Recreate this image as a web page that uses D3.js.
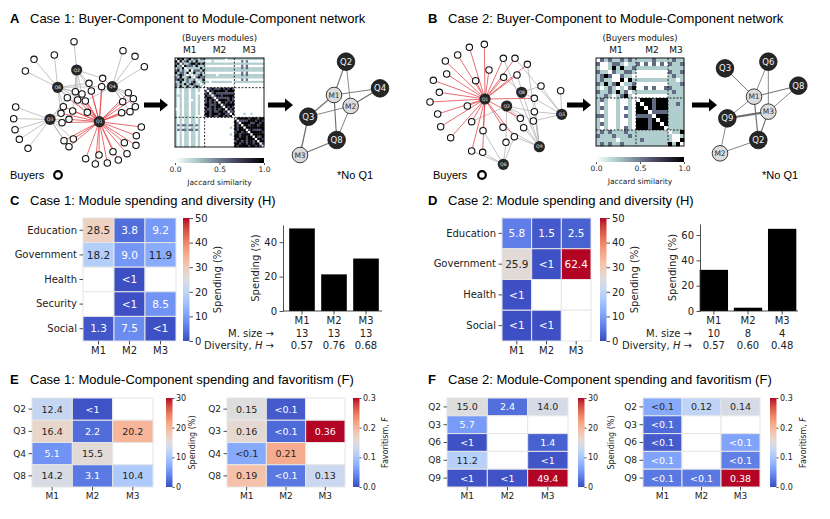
<!DOCTYPE html>
<html>
<head>
<meta charset="utf-8">
<script src="https://cdn.jsdelivr.net/npm/d3@7"></script>
<style>
  body { margin: 0; background: #fff; }
  text { font-family: "DejaVu Sans", sans-serif; }
  .ttl { font-family: "Liberation Sans", Arial, sans-serif; }
</style>
</head>
<body>
<script>
// ---------- data ----------
var modules = ["M1", "M2", "M3"];

// panel C / D : module spending by sector (%), null = no spending
var sectorsC = ["Education", "Government", "Health", "Security", "Social"];
var spendC = [[28.5, 3.8, 9.2], [18.2, 9.0, 11.9], [null, 0.4, null], [null, 0.5, 8.5], [1.3, 7.5, 0.6]];
var sectorsD = ["Education", "Government", "Health", "Social"];
var spendD = [[5.8, 1.5, 2.5], [25.9, 0.6, 62.4], [0.5, null, null], [0.4, 0.5, null]];

// module totals, sizes and diversity
var barC = [48.0, 21.3, 30.5];
var barD = [32.5, 2.6, 64.9];
var sizeC = [13, 13, 13];
var sizeD = [10, 8, 4];
var divC = ["0.57", "0.76", "0.68"];
var divD = ["0.57", "0.60", "0.48"];

// panel E / F : module-component spending (%) and favoritism
var compE = ["Q2", "Q3", "Q4", "Q8"];
var spendE = [[12.4, 0.5, null], [16.4, 2.2, 20.2], [5.1, 15.5, null], [14.2, 3.1, 10.4]];
var favE = [[0.15, 0.01, null], [0.16, 0.02, 0.36], [0.07, 0.21, null], [0.19, 0.03, 0.13]];
var compF = ["Q2", "Q3", "Q6", "Q8", "Q9"];
var spendF = [[15.0, 2.4, 14.0], [5.7, null, null], [0.4, null, 1.4], [11.2, null, 0.6], [0.5, 0.5, 49.4]];
var favF = [[0.07, 0.12, 0.14], [0.02, null, null], [0.01, null, 0.065], [0.065, null, 0.035], [0.03, 0.03, 0.38]];

// Jaccard similarity between buyers (lower triangle, digit/9), blocks by module
var jacA = [
  "", "9", "59", "925", "2529", "59252", "925529", "2595202", "52922592", "595925225",
  "2292252592", "52529259522", "529229225952",
  "2020220220200", "2020220220200 6", "2020220220000 69", "2220220220200 966",
  "2020220220200 6996", "2020220020200 69696", "2020220220200 696969", "2020220220200 9966699",
  "2020220220200 69696996", "0020220220200 966969699", "2020220220200 6969669969",
  "2020220220200 99699969966", "2020220220000 696966996969",
  "2020220220200 0000000000000", "2020220220200 0000000000000 9", "2020220220200 0000000000000 96",
  "2525525525200 0000000000000 969", "2020220220200 0000000000020 9699",
  "2525525525200 0000000000000 96999", "2020220220200 0000000000000 699696",
  "2020220220200 0000000000020 9969999", "2020220220200 0000000000000 99699699",
  "2020220220200 0000000000000 969996999", "2020220220200 0000000000000 6996969969",
  "2020220220200 0000000000000 99699699699", "2020220220200 0000000000000 969999699696"
];
var jacB = [
  "", "5", "20", "522", "2595", "25220", "529259", "2025202", "52252925", "225202592",
  "2520020020", "2020020020 9", "2520020520 99", "2020020020 999", "5520020520 5555",
  "2020020020 99959", "2520020020 999599", "2020020520 9995999",
  "2525222522 22222222", "5222522252 22222222 2", "2222202222 25222222 20", "2525225222 22222222 929"
];

// buyer-component networks (layout units), buyers list the components they buy from
var hubsA = [["Q2", 230, 120], ["Q8", 173, 172], ["Q4", 337, 170], ["Q3", 150, 268], ["Q1", 298, 275]];
var buyersA = [
  [222, 35, "Q2"], [163, 75, "Q8"], [102, 88, "Q8"], [76, 123, "Q8"],
  [369, 62, "Q4"], [405, 79, "Q4"], [433, 110, "Q4"],
  [308, 145, "Q2 Q4 Q1"], [267, 160, "Q2 Q8 Q1"], [305, 170, "Q4 Q8 Q1"], [274, 183, "Q2 Q1"],
  [226, 185, "Q8 Q2 Q1"], [246, 192, "Q2 Q1 Q8"], [202, 203, "Q8 Q1 Q3"], [233, 210, "Q2 Q1"],
  [256, 213, "Q4 Q1 Q8"],
  [385, 188, "Q4 Q1"], [400, 206, "Q4 Q1"], [368, 215, "Q4 Q1"], [406, 230, "Q4 Q1"],
  [390, 245, "Q1 Q4"], [365, 248, "Q1"],
  [190, 230, "Q8 Q3 Q1"], [218, 243, "Q1 Q2"], [262, 247, "Q1 Q8"], [183, 250, "Q3 Q8 Q1"],
  [207, 268, "Q3 Q1"], [186, 278, "Q3 Q1"],
  [47, 231, "Q3"], [41, 266, "Q3"], [45, 299, "Q3"], [58, 328, "Q3"], [84, 355, "Q3"],
  [192, 332, "Q3 Q1"], [220, 327, "Q1 Q3"], [207, 350, "Q1 Q3"],
  [424, 291, "Q1"], [409, 317, "Q1"], [373, 338, "Q1"], [408, 346, "Q1"], [381, 371, "Q1"],
  [339, 365, "Q1"], [297, 375, "Q1"], [355, 390, "Q1"], [257, 386, "Q1"], [286, 402, "Q1"], [322, 399, "Q1"]
];
var hubsB = [["Q1", 210, 207], ["Q2", 275, 228], ["Q8", 320, 187], ["Q3", 440, 253], ["Q9", 373, 350], ["Q6", 265, 403]];
var buyersB = [
  [208, 43, "Q1"], [163, 52, "Q1"], [128, 75, "Q1"], [91, 93, "Q1"], [95, 132, "Q1"], [55, 151, "Q1"],
  [73, 187, "Q1"], [45, 216, "Q1"], [68, 252, "Q1"], [77, 290, "Q1"], [107, 323, "Q1"], [182, 152, "Q1"],
  [157, 228, "Q1"], [222, 120, "Q1"],
  [265, 85, "Q1 Q9"], [300, 85, "Q1 Q3"], [337, 103, "Q1 Q9"], [266, 142, "Q1 Q8"], [306, 135, "Q1 Q9"],
  [378, 168, "Q8 Q3"], [437, 182, "Q3"], [358, 205, "Q1 Q8 Q3 Q9"], [358, 245, "Q2 Q3 Q9"],
  [170, 275, "Q1 Q2"], [204, 302, "Q1 Q6"], [264, 292, "Q1 Q9"], [316, 265, "Q1 Q2 Q9"],
  [326, 293, "Q2 Q9"], [355, 273, "Q2 Q3"], [298, 320, "Q1 Q6 Q9"], [273, 337, "Q2 Q6"],
  [170, 363, "Q1 Q6"], [203, 367, "Q1 Q6"]
];

// module-component networks (layout units)
var mnodesA = [["Q2", 198, 50], ["M1", 162, 150], ["Q4", 300, 130], ["M2", 212, 183], ["Q3", 85, 215], ["Q8", 170, 285], ["M3", 60, 330]];
var mnodesB = [["Q3", 75, 70], ["Q6", 205, 50], ["Q8", 295, 122], ["M1", 162, 155], ["M3", 205, 200], ["Q9", 82, 220], ["Q2", 175, 285], ["M2", 60, 325]];

// ---------- helpers ----------
var svg = d3.select("body").append("svg").attr("width", 830).attr("height", 519);
svg.append("rect").attr("width", 830).attr("height", 519).attr("fill", "#fff");
var defs = svg.append("defs");

var cw = [[59,76,192],[77,104,215],[98,130,234],[119,154,247],[141,176,254],[163,194,255],[184,208,249],
  [204,217,238],[221,221,221],[236,211,197],[245,196,173],[247,177,148],[244,154,123],[236,127,99],
  [222,96,77],[203,62,56],[180,4,38]];
var coolwarm = d3.scaleLinear().domain(cw.map(function(d, i) { return i / 16; }))
  .range(cw.map(function(d) { return d3.rgb(d[0], d[1], d[2]).toString(); })).clamp(true);
var boneR = d3.scaleLinear().domain([0, 0.254, 0.635, 1]).range(["#ffffff", "#a6c7c7", "#515171", "#000000"]).clamp(true);

function lum(c) {
  var r = d3.rgb(c), w = [0.2126, 0.7152, 0.0722];
  return [r.r, r.g, r.b].reduce(function(a, v, i) {
    v /= 255;
    v = v <= 0.03928 ? v / 12.92 : Math.pow((v + 0.055) / 1.055, 2.4);
    return a + v * w[i];
  }, 0);
}

var gid = 0;
function gradient(scale, horizontal) {
  var id = "grad" + (gid++);
  var lg = defs.append("linearGradient").attr("id", id)
    .attr("x1", 0).attr("y1", horizontal ? 0 : 1).attr("x2", horizontal ? 1 : 0).attr("y2", 0);
  d3.range(0, 1.0001, 0.05).forEach(function(t) {
    lg.append("stop").attr("offset", t).attr("stop-color", scale(t));
  });
  return "url(#" + id + ")";
}

function styleAxis(sel, fs) {
  sel.selectAll("line").attr("stroke", "#222").attr("stroke-width", 0.8);
  sel.selectAll("path.domain").attr("stroke", "#222").attr("stroke-width", 0.8);
  sel.selectAll("text").attr("fill", "#222").style("font-size", fs + "px").style("font-family", "DejaVu Sans");
}

function title(x, y, letter, txt) {
  svg.append("text").attr("class", "ttl").attr("x", x).attr("y", y).attr("font-weight", "bold")
    .style("font-size", "13px").text(letter);
  svg.append("text").attr("class", "ttl").attr("x", x + 20).attr("y", y).style("font-size", "13px").text(txt);
}

function arrow(x0, x1, y) {
  var p = d3.path();
  p.moveTo(x0, y - 2.4); p.lineTo(x1 - 8, y - 2.4); p.lineTo(x1 - 8, y - 6.5); p.lineTo(x1, y);
  p.lineTo(x1 - 8, y + 6.5); p.lineTo(x1 - 8, y + 2.4); p.lineTo(x0, y + 2.4); p.closePath();
  svg.append("path").attr("d", p.toString()).attr("fill", "#000");
}

function network(ox, oy, hubs, buyers) {
  var sx = d3.scaleLinear().domain([0, 480]).range([ox, ox + 160]);
  var sy = d3.scaleLinear().domain([0, 420]).range([oy, oy + 140]);
  var hub = new Map(hubs.map(function(h) { return [h[0], h]; }));
  var links = [];
  buyers.forEach(function(b) {
    b[2].split(" ").forEach(function(q) { links.push({ b: b, h: hub.get(q), red: q === "Q1" }); });
  });
  links.sort(function(a, b) { return a.red - b.red; });
  var g = svg.append("g");
  g.selectAll("line").data(links).enter().append("line")
    .attr("x1", function(d) { return sx(d.b[0]); }).attr("y1", function(d) { return sy(d.b[1]); })
    .attr("x2", function(d) { return sx(d.h[1]); }).attr("y2", function(d) { return sy(d.h[2]); })
    .attr("stroke", function(d) { return d.red ? "#e5484d" : "#b4b4b4"; }).attr("stroke-width", 0.8);
  g.selectAll("circle.b").data(buyers).enter().append("circle")
    .attr("cx", function(d) { return sx(d[0]); }).attr("cy", function(d) { return sy(d[1]); })
    .attr("r", 3.2).attr("fill", "#fff").attr("stroke", "#111").attr("stroke-width", 1.1);
  g.selectAll("circle.h").data(hubs).enter().append("circle")
    .attr("cx", function(d) { return sx(d[1]); }).attr("cy", function(d) { return sy(d[2]); })
    .attr("r", 5.6).attr("fill", "#262626");
  g.selectAll("text").data(hubs).enter().append("text")
    .attr("x", function(d) { return sx(d[1]); }).attr("y", function(d) { return sy(d[2]); })
    .attr("dy", "0.35em").attr("text-anchor", "middle").attr("fill", "#eee").style("font-size", "4.6px")
    .text(function(d) { return d[0]; });
}

function modNetwork(ox, oy, nodes, comps, vals) {
  var sx = d3.scaleLinear().domain([0, 405]).range([ox, ox + 135]);
  var sy = d3.scaleLinear().domain([0, 360]).range([oy, oy + 120]);
  var node = new Map(nodes.map(function(n) { return [n[0], n]; }));
  var links = [];
  comps.forEach(function(c, i) {
    modules.forEach(function(m, j) {
      if (vals[i][j] != null) links.push({ a: node.get(c), b: node.get(m), v: vals[i][j] });
    });
  });
  var g = svg.append("g");
  g.selectAll("line").data(links).enter().append("line")
    .attr("x1", function(d) { return sx(d.a[1]); }).attr("y1", function(d) { return sy(d.a[2]); })
    .attr("x2", function(d) { return sx(d.b[1]); }).attr("y2", function(d) { return sy(d.b[2]); })
    .attr("stroke", "#707070").attr("stroke-width", function(d) { return 0.8 + d.v / 40; });
  g.selectAll("circle").data(nodes).enter().append("circle")
    .attr("cx", function(d) { return sx(d[1]); }).attr("cy", function(d) { return sy(d[2]); })
    .attr("r", function(d) { return d[0][0] === "Q" ? 8.8 : 7.8; })
    .attr("fill", function(d) { return d[0][0] === "Q" ? "#262626" : "#dcdcdc"; })
    .attr("stroke", "#111").attr("stroke-width", 0.8);
  g.selectAll("text").data(nodes).enter().append("text")
    .attr("x", function(d) { return sx(d[1]); }).attr("y", function(d) { return sy(d[2]); })
    .attr("dy", "0.36em").attr("text-anchor", "middle")
    .attr("fill", function(d) { return d[0][0] === "Q" ? "#f2f2f2" : "#333"; })
    .style("font-size", function(d) { return d[0][0] === "Q" ? "8.5px" : "7.5px"; })
    .text(function(d) { return d[0]; });
}

function jaccard(rowsIn, sizes, x0, y0, w) {
  var rows = rowsIn.map(function(s) { return s.replace(/ /g, ""); });
  var n = rows.length;
  var b = d3.scaleBand().domain(d3.range(n)).range([0, w]);
  var cells = [];
  for (var i = 0; i < n; i++) for (var j = 0; j < n; j++) {
    var ch = i === j ? "0" : (i > j ? rows[i][j] : rows[j][i]);
    var v = +ch; if (isNaN(v)) v = 0;
    cells.push({ i: i, j: j, v: v / 9 });
  }
  var g = svg.append("g").attr("transform", "translate(" + x0 + "," + y0 + ")");
  g.selectAll("rect").data(cells).enter().append("rect")
    .attr("x", function(d) { return b(d.j); }).attr("y", function(d) { return b(d.i); })
    .attr("width", b.bandwidth() + 0.3).attr("height", b.bandwidth() + 0.3)
    .attr("fill", function(d) { return boneR(d.v); });
  var cum = d3.cumsum(sizes);
  var cuts = Array.from(cum).slice(0, -1);
  cuts.forEach(function(k) {
    g.append("line").attr("x1", b(k)).attr("x2", b(k)).attr("y1", 0).attr("y2", w)
      .attr("stroke", "#000").attr("stroke-width", 0.8).attr("stroke-dasharray", "2,1.5");
    g.append("line").attr("y1", b(k)).attr("y2", b(k)).attr("x1", 0).attr("x2", w)
      .attr("stroke", "#000").attr("stroke-width", 0.8).attr("stroke-dasharray", "2,1.5");
  });
  g.append("rect").attr("width", w).attr("height", w).attr("fill", "none").attr("stroke", "#000").attr("stroke-width", 0.9);
  var starts = [0].concat(cuts);
  g.selectAll("text.m").data(modules).enter().append("text")
    .attr("x", function(d, k) { return (b(starts[k]) + b(cum[k] - 1) + b.bandwidth()) / 2; })
    .attr("y", -5).attr("text-anchor", "middle").style("font-size", "9px").attr("fill", "#111")
    .text(function(d) { return d; });
  g.append("text").attr("x", w / 2).attr("y", -17).attr("text-anchor", "middle")
    .style("font-size", "8.5px").attr("fill", "#111").text("(Buyers modules)");
  // colorbar
  var cy = w + 11;
  g.append("rect").attr("x", 0).attr("y", cy).attr("width", w).attr("height", 5).attr("fill", gradient(boneR, true));
  var cs = d3.scaleLinear().domain([0, 1]).range([0, w]);
  var ax = g.append("g").attr("transform", "translate(0," + (cy + 5) + ")")
    .call(d3.axisBottom(cs).tickValues([0, 0.5, 1]).tickFormat(d3.format(".1f")).tickSize(2).tickPadding(1.5));
  ax.select(".domain").remove();
  styleAxis(ax, 7.5);
  g.append("text").attr("x", w / 2).attr("y", cy + 27).attr("text-anchor", "middle")
    .style("font-size", "7.5px").attr("fill", "#222").text("Jaccard similarity");
}

function heatmap(o) {
  var g = svg.append("g");
  var x = d3.scaleBand().domain(modules).range([o.x0, o.x1]);
  var y = d3.scaleBand().domain(o.rows).range([o.y0, o.y1]);
  var col = function(v) { return coolwarm(v / o.vmax); };
  var cells = [];
  o.rows.forEach(function(r, i) {
    modules.forEach(function(c, j) { cells.push({ r: r, c: c, v: o.vals[i][j] }); });
  });
  g.selectAll("rect").data(cells).enter().append("rect")
    .attr("x", function(d) { return x(d.c); }).attr("y", function(d) { return y(d.r); })
    .attr("width", x.bandwidth()).attr("height", y.bandwidth())
    .attr("fill", function(d) { return d.v == null ? "#fff" : col(d.v); })
    .attr("stroke", "#e6e6e6").attr("stroke-width", 1);
  g.selectAll("text.a").data(cells.filter(function(d) { return d.v != null; })).enter().append("text")
    .attr("x", function(d) { return x(d.c) + x.bandwidth() / 2; })
    .attr("y", function(d) { return y(d.r) + y.bandwidth() / 2; })
    .attr("dy", "0.36em").attr("text-anchor", "middle").style("font-size", o.fa + "px")
    .attr("fill", function(d) { return lum(col(d.v)) > 0.408 ? "#262626" : "#fff"; })
    .text(function(d) { return o.fmt(d.v); });
  var ya = g.append("g").attr("transform", "translate(" + o.x0 + ",0)")
    .call(d3.axisLeft(y).tickSize(3.5).tickPadding(2.5));
  ya.select(".domain").remove();
  styleAxis(ya, o.fs);
  var xa = g.append("g").attr("transform", "translate(0," + o.y1 + ")")
    .call(d3.axisBottom(x).tickSize(3.5).tickPadding(2));
  xa.select(".domain").remove();
  styleAxis(xa, o.fs);
  // colorbar
  var cs = d3.scaleLinear().domain([0, o.vmax]).range([o.y1, o.y0]);
  g.append("rect").attr("x", o.cbx).attr("y", o.y0).attr("width", 6.5).attr("height", o.y1 - o.y0)
    .attr("fill", gradient(coolwarm, false));
  var ca = g.append("g").attr("transform", "translate(" + (o.cbx + 6.5) + ",0)")
    .call(d3.axisRight(cs).tickValues(o.cbt).tickFormat(o.cbf).tickSize(o.cts).tickPadding(o.ctp));
  ca.select(".domain").remove();
  styleAxis(ca, o.cfs);
  var lt = g.append("text").attr("transform", "translate(" + o.lx + "," + (o.y0 + o.y1) / 2 + ") rotate(-90)")
    .attr("text-anchor", "middle").style("font-size", o.cfs + "px").attr("fill", "#222");
  lt.append("tspan").text(o.label);
  if (o.italic) lt.append("tspan").attr("font-style", "italic").text(o.italic);
}

function bars(o) {
  var g = svg.append("g");
  var x = d3.scaleBand().domain(modules).range(o.xr).paddingInner(o.pi).paddingOuter(o.po);
  var y = d3.scaleLinear().domain([0, o.ymax]).range([o.yb, o.yt]);
  g.selectAll("rect").data(o.vals).enter().append("rect")
    .attr("x", function(d, i) { return x(modules[i]); }).attr("width", x.bandwidth())
    .attr("y", function(d) { return y(d); }).attr("height", function(d) { return o.yb - y(d); })
    .attr("fill", "#000");
  var ya = g.append("g").attr("transform", "translate(" + o.ax0 + ",0)")
    .call(d3.axisLeft(y).tickValues(o.ticks).tickSize(3.5).tickSizeOuter(0).tickPadding(2.5));
  styleAxis(ya, 10);
  g.append("line").attr("x1", o.ax0).attr("x2", o.ax1).attr("y1", o.yb).attr("y2", o.yb)
    .attr("stroke", "#222").attr("stroke-width", 0.8);
  var xa = g.append("g").attr("transform", "translate(0," + o.yb + ")")
    .call(d3.axisBottom(x).tickSize(3.5).tickPadding(2));
  xa.select(".domain").remove();
  styleAxis(xa, 10);
  g.append("text").attr("transform", "translate(" + (o.ax0 - 24) + "," + (o.yb + o.yt) / 2 + ") rotate(-90)")
    .attr("text-anchor", "middle").style("font-size", "10px").attr("fill", "#222").text("Spending (%)");
  var rows = [{ lab: "M. size", v: o.sizes, y: o.yb + 26 }, { lab: "Diversity, ", it: "H", v: o.divs, y: o.yb + 38 }];
  rows.forEach(function(r) {
    var t = g.append("text").attr("x", o.lx).attr("y", r.y).attr("text-anchor", "end")
      .style("font-size", "10px").attr("fill", "#222");
    t.append("tspan").text(r.lab);
    if (r.it) t.append("tspan").attr("font-style", "italic").text(r.it);
    t.append("tspan").text(" \u2192");
    g.selectAll(null).data(r.v).enter().append("text")
      .attr("x", function(d, i) { return x(modules[i]) + x.bandwidth() / 2; }).attr("y", r.y)
      .attr("text-anchor", "middle").style("font-size", "10px").attr("fill", "#222")
      .text(function(d) { return d; });
  });
}

var fmtS = function(v) { return v < 1 ? "<1" : v.toFixed(1); };
var fmtF = function(v) { return v < 0.1 ? "<0.1" : v.toFixed(2); };

// ---------- panels A & B ----------
title(10, 23, "A", "Case 1: Buyer-Component to Module-Component network");
title(428, 23, "B", "Case 2: Buyer-Component to Module-Component network");

network(0, 30, hubsA, buyersA);
network(415, 30, hubsB, buyersB);
jaccard(jacA, sizeC, 175, 58, 89);
jaccard(jacB, sizeD, 596, 58, 88);
arrow(144, 168, 105);
arrow(268, 293, 105);
arrow(567, 591, 105);
arrow(692, 717, 105);
modNetwork(280, 45, mnodesA, compE, spendE);
modNetwork(700, 45, mnodesB, compF, spendF);

[[10, 58], [433, 482]].forEach(function(p) {
  svg.append("text").attr("class", "ttl").attr("x", p[0]).attr("y", 179).style("font-size", "11px").text("Buyers");
  svg.append("circle").attr("cx", p[1]).attr("cy", 175).attr("r", 3.8).attr("fill", "#fff")
    .attr("stroke", "#000").attr("stroke-width", 2.2);
});
[337, 762].forEach(function(x) {
  svg.append("text").attr("class", "ttl").attr("x", x).attr("y", 179).style("font-size", "11px").text("*No Q1");
});

// ---------- panels C & D ----------
title(10, 205, "C", "Case 1: Module spending and diversity (H)");
title(428, 205, "D", "Case 2: Module spending and diversity (H)");

heatmap({ rows: sectorsC, vals: spendC, vmax: 50, x0: 83, x1: 176, y0: 218, y1: 341, fmt: fmtS, fa: 10.5, fs: 10,
  cbx: 183, cbt: [0, 10, 20, 30, 40, 50], cbf: d3.format("d"), cts: 3.5, ctp: 2, cfs: 10, lx: 221, label: "Spending (%)" });
heatmap({ rows: sectorsD, vals: spendD, vmax: 50, x0: 502, x1: 591, y0: 218, y1: 341, fmt: fmtS, fa: 10.5, fs: 10,
  cbx: 600, cbt: [0, 10, 20, 30, 40, 50], cbf: d3.format("d"), cts: 3.5, ctp: 2, cfs: 10, lx: 638, label: "Spending (%)" });

bars({ vals: barC, sizes: sizeC, divs: divC, xr: [286, 382], pi: 0.2, po: 0.1, ymax: 50, ticks: [0, 20, 40],
  yb: 311, yt: 225, ax0: 283, ax1: 382, lx: 274 });
bars({ vals: barD, sizes: sizeD, divs: divD, xr: [699, 797], pi: 0.17, po: 0.02, ymax: 68.7, ticks: [0, 20, 40, 60],
  yb: 311, yt: 224, ax0: 700, ax1: 798, lx: 692 });

// ---------- panels E & F ----------
title(10, 384, "E", "Case 1: Module-Component spending and favoritism (F)");
title(428, 384, "F", "Case 2: Module-Component spending and favoritism (F)");

heatmap({ rows: compE, vals: spendE, vmax: 30, x0: 32, x1: 153, y0: 398, y1: 487, fmt: fmtS, fa: 9.5, fs: 9,
  cbx: 166, cbt: [0, 10, 20, 30], cbf: d3.format("d"), cts: 2, ctp: 1.5, cfs: 8, lx: 195, label: "Spending (%)" });
heatmap({ rows: compE, vals: favE, vmax: 0.3, x0: 227, x1: 345, y0: 398, y1: 487, fmt: fmtF, fa: 9.5, fs: 9,
  cbx: 353, cbt: [0, 0.1, 0.2, 0.3], cbf: d3.format(".1f"), cts: 2, ctp: 1.5, cfs: 8, lx: 388, label: "Favoritism, ", italic: "F" });
heatmap({ rows: compF, vals: spendF, vmax: 30, x0: 447, x1: 568, y0: 398, y1: 487, fmt: fmtS, fa: 9.5, fs: 9,
  cbx: 578, cbt: [0, 10, 20, 30], cbf: d3.format("d"), cts: 2, ctp: 1.5, cfs: 8, lx: 614, label: "Spending (%)" });
heatmap({ rows: compF, vals: favF, vmax: 0.3, x0: 643, x1: 760, y0: 398, y1: 487, fmt: fmtF, fa: 9.5, fs: 9,
  cbx: 770, cbt: [0, 0.1, 0.2, 0.3], cbf: d3.format(".1f"), cts: 2, ctp: 1.5, cfs: 8, lx: 806, label: "Favoritism, ", italic: "F" });
</script>
</body>
</html>
